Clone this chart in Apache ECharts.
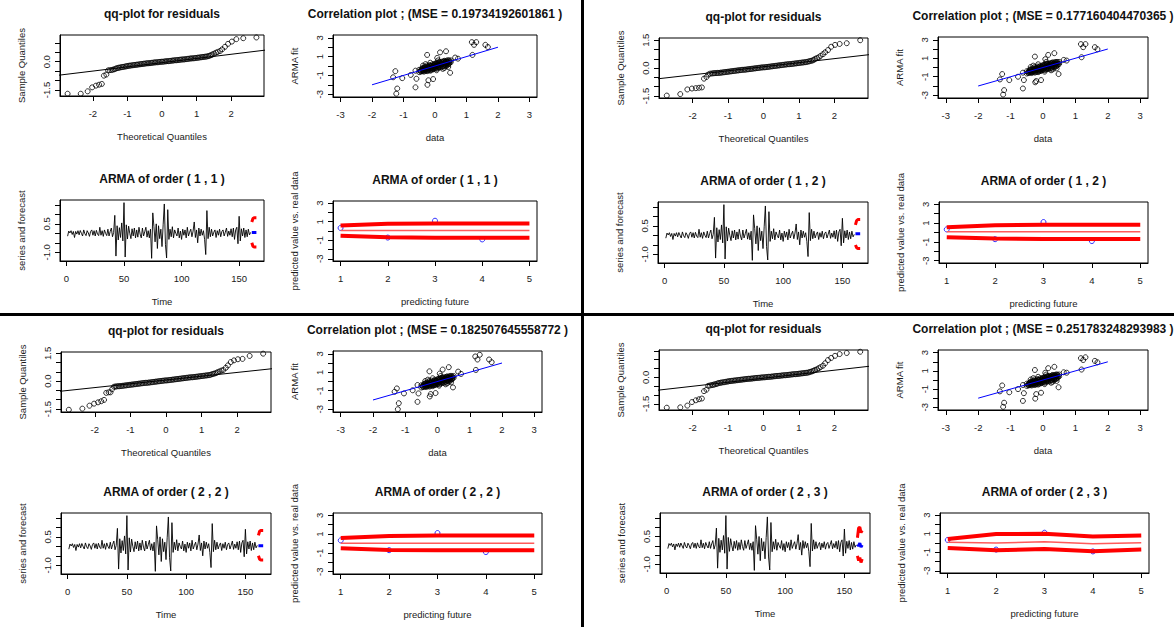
<!DOCTYPE html>
<html><head><meta charset="utf-8">
<script src="https://cdn.jsdelivr.net/npm/echarts/dist/echarts.min.js"></script>
<style>html,body{margin:0;padding:0;background:#fff}#c{width:1174px;height:627px}</style>
</head><body><div id="c"></div>
<script>
// ---------- DATA ----------
const mseValues = ['0.19734192601861','0.177160404470365','0.182507645558772','0.251783248293983'];
const armaOrders = [[1,1],[1,2],[2,2],[2,3]];

// qq-plot: theoretical quantiles (tails + dense middle) and sample quantiles
const qqTheoLeft = [-2.73,-2.35,-2.15,-2.02,-1.91,-1.82,-1.74,-1.68,-1.61,-1.56,-1.51,-1.46,-1.42,-1.38,-1.34,-1.30];
const qqTheoMid = [-1.26,-1.22,-1.18,-1.14,-1.10,-1.06,-1.02,-0.98,-0.94,-0.90,-0.86,-0.82,-0.78,-0.74,-0.70,-0.66,-0.62,-0.58,-0.54,-0.50,-0.46,-0.42,-0.38,-0.34,-0.30,-0.26,-0.22,-0.18,-0.14,-0.10,-0.06,-0.02,
 0.02,0.06,0.10,0.14,0.18,0.22,0.26,0.30,0.34,0.38,0.42,0.46,0.50,0.54,0.58,0.62,0.66,0.70,0.74,0.78,0.82,0.86,0.90,0.94,0.98,1.02,1.06,1.10,1.14,1.18,1.22,1.26];
const qqTheoRight = [1.30,1.34,1.38,1.42,1.46,1.51,1.56,1.61,1.68,1.74,1.82,1.91,2.02,2.15,2.35,2.73];

const qqMidA = [-0.32,-0.31,-0.29,-0.28,-0.27,-0.25,-0.24,-0.22,-0.21,-0.20,-0.19,-0.18,-0.17,-0.16,-0.15,-0.14,-0.13,-0.12,-0.11,-0.10,-0.09,-0.08,-0.08,-0.07,-0.06,-0.05,-0.04,-0.03,-0.03,-0.02,-0.01,0.00,
 0.00,0.01,0.02,0.03,0.03,0.04,0.05,0.06,0.07,0.08,0.08,0.09,0.10,0.11,0.12,0.12,0.13,0.14,0.15,0.16,0.17,0.18,0.18,0.19,0.20,0.21,0.22,0.23,0.24,0.25,0.26,0.27];
const qqMidB = [-0.26,-0.25,-0.24,-0.23,-0.22,-0.21,-0.20,-0.19,-0.18,-0.17,-0.16,-0.15,-0.14,-0.13,-0.12,-0.11,-0.10,-0.09,-0.09,-0.08,-0.07,-0.06,-0.05,-0.04,-0.03,-0.02,-0.01,0.00,0.01,0.02,0.03,0.04,
 0.04,0.05,0.06,0.07,0.08,0.09,0.10,0.11,0.12,0.13,0.14,0.15,0.16,0.17,0.18,0.19,0.20,0.21,0.21,0.22,0.23,0.24,0.25,0.26,0.27,0.28,0.29,0.30,0.31,0.32,0.33,0.35];
const qqLeft1 = [-1.70,-1.70,-1.57,-1.36,-1.27,-1.22,-1.18,-0.74,-0.68,-0.46,-0.45,-0.44,-0.42,-0.40,-0.37,-0.34];
const qqRight1 = [0.28,0.30,0.32,0.35,0.39,0.43,0.48,0.52,0.57,0.66,0.79,0.95,1.07,1.20,1.25,1.29];
const qqLeft2 = [-1.48,-1.40,-1.15,-1.10,-1.08,-1.06,-1.04,-0.57,-0.48,-0.35,-0.30,-0.29,-0.28,-0.27,-0.27,-0.26];
const qqRight2 = [0.37,0.39,0.41,0.44,0.50,0.54,0.58,0.66,0.75,0.85,0.97,1.15,1.25,1.30,1.34,1.50];
const qqLeft3 = [-1.54,-1.48,-1.32,-1.21,-1.14,-1.08,-1.01,-0.63,-0.60,-0.60,-0.42,-0.30,-0.29,-0.28,-0.27,-0.27];
const qqRight3 = [0.38,0.40,0.42,0.45,0.49,0.53,0.57,0.60,0.72,0.85,1.03,1.12,1.18,1.20,1.36,1.48];
const qqLeft4 = [-1.72,-1.70,-1.60,-1.40,-1.30,-1.24,-1.20,-0.78,-0.70,-0.48,-0.46,-0.44,-0.42,-0.40,-0.38,-0.35];
const qqRight4 = [0.30,0.32,0.35,0.38,0.42,0.46,0.52,0.58,0.66,0.80,0.98,1.10,1.22,1.32,1.38,1.45];
const qqLineX = [-3.3, 3.3];
const qqLineY = [[-0.786,0.686],[-0.646,0.792],[-0.611,0.735],[-0.80,0.70]];

// correlation plot: data (x) vs ARMA fit (y)
const corrCoreX = [-0.45,-0.42,-0.40,-0.38,-0.36,-0.34,-0.32,-0.30,-0.28,-0.26,-0.24,-0.22,-0.20,-0.18,-0.16,-0.14,-0.12,-0.10,-0.08,-0.06,-0.04,-0.02,0.00,0.02,0.04,0.06,0.08,0.10,0.12,0.14,0.16,0.18,0.20,0.22,0.24,0.26,0.28,0.30,0.32,0.34,0.36,0.38,0.40,0.42,0.44,0.46,-0.50,-0.30,0.10,0.25,-0.15,0.05,
 -0.45,-0.45,-0.40,-0.40,-0.35,-0.35,-0.35,-0.30,-0.30,-0.30,-0.25,-0.25,-0.25,-0.20,-0.20,-0.20,-0.15,-0.15,-0.15,-0.10,-0.10,-0.10,-0.05,-0.05,-0.05,0.00,0.00,0.00,0.05,0.05,0.05,0.10,0.10,0.10,0.15,0.15,0.15,0.20,0.20,0.20,0.25,0.25,0.25,0.30,0.30,0.30,0.35,0.35,0.35,0.40,0.40,0.40,0.45,0.45,0.50,0.50,-0.50,0.42,-0.38,0.30];
const corrCoreY = [-0.55,-0.30,-0.45,-0.20,-0.50,-0.35,-0.10,-0.40,-0.25,0.05,-0.45,-0.15,-0.30,0.10,-0.20,-0.40,0.00,-0.15,0.20,-0.30,0.05,-0.10,0.15,-0.20,0.30,0.00,0.25,-0.10,0.40,0.10,0.30,-0.05,0.45,0.20,0.35,0.00,0.50,0.25,0.40,0.10,0.55,0.30,0.45,0.20,0.60,0.35,-0.65,0.20,0.60,-0.30,0.35,-0.45,
 -0.45,-0.60,-0.30,-0.55,-0.25,-0.45,-0.60,-0.20,-0.50,-0.30,-0.10,-0.35,-0.55,-0.05,-0.20,-0.45,0.00,-0.30,-0.50,0.05,-0.25,-0.40,0.10,-0.15,-0.35,0.25,0.00,-0.25,0.20,-0.05,-0.30,0.30,0.05,-0.20,0.40,0.15,-0.15,0.30,0.10,-0.15,0.45,0.20,-0.05,0.55,0.35,0.10,0.45,0.20,0.00,0.60,0.35,0.10,0.50,0.25,0.40,0.60,-0.40,-0.10,0.05,-0.20];
const corrOutX = [1.17,1.31,1.24,1.60,1.68,1.19,0.64,0.73,0.35,0.16,0.07,-0.25,0.48,-0.06,-0.21,-0.24,-0.62,-0.59,-0.62,-0.77,-1.04,-1.26,-1.33,-1.20,-1.23];
const corrOutY1 = [2.54,2.54,2.25,2.25,2.02,1.18,0.90,0.78,1.57,1.45,0.86,1.18,-0.72,-1.39,-1.52,-2.00,-0.50,-1.36,-2.27,-0.95,-1.29,-0.55,-1.20,-2.40,-2.95];
const corrOutY2 = [2.53,2.53,2.20,2.20,1.98,1.11,0.82,0.75,1.55,1.36,0.90,1.18,-0.71,-1.36,-1.47,-1.60,-0.56,-1.36,-2.27,-1.00,-1.36,-0.71,-1.29,-2.45,-2.93];
const corrOutY3 = [2.71,2.89,2.38,2.38,2.09,1.25,1.07,0.82,1.55,1.29,0.86,1.10,-0.64,-1.25,-1.36,-1.62,-0.38,-1.29,-2.20,-0.95,-1.29,-0.75,-1.11,-2.35,-3.00];
const corrOutY4 = [2.40,2.50,2.20,2.10,1.95,1.15,0.85,0.80,1.45,1.30,0.80,1.10,-0.80,-1.40,-1.55,-2.05,-0.55,-1.45,-2.30,-1.00,-1.35,-0.60,-1.25,-2.50,-2.95];
const corrOutY = [corrOutY1, corrOutY2, corrOutY3, corrOutY4];
const fitLineX = [-2, 2];
const fitLineY = [-2, 2];

// observed series (t = 1..160)
const series = [
 -0.15,0.12,0.02,0.14,-0.06,0.10,-0.22,0.10,-0.04,0.14,
 -0.08,0.15,0.00,-0.14,0.18,-0.02,-0.12,0.14,0.02,-0.16,
 0.10,0.18,-0.10,0.14,-0.14,0.16,-0.04,-0.12,0.32,-0.10,
 0.14,-0.16,0.18,0.00,-0.12,0.22,-0.14,0.10,0.28,-0.18,
 0.05,0.95,-1.20,0.40,-0.35,0.30,-0.22,0.55,-0.40,1.62,
 -1.25,0.45,-0.30,0.38,0.00,-0.28,0.24,-0.14,0.28,-0.24,
 0.18,-0.20,0.32,-0.04,-0.24,0.28,-0.14,0.08,0.32,-0.20,
 0.14,-0.24,0.22,-1.32,1.08,0.35,-0.45,0.50,-0.80,0.40,
 -0.28,0.22,-0.70,0.45,1.55,-0.60,-1.30,1.25,-0.32,0.22,
 -0.18,0.35,-0.24,0.18,0.00,-0.14,0.28,-0.24,0.12,-0.32,
 0.22,-0.10,0.18,-0.24,0.32,-0.14,0.06,0.22,-0.18,0.12,
 0.60,-0.22,0.18,-0.50,0.28,-0.14,0.22,-0.10,0.14,-0.32,
 -1.12,1.20,-0.28,0.32,-0.18,0.22,-0.14,0.06,0.18,-0.22,
 0.14,-0.10,0.22,-0.18,0.10,0.18,-0.14,0.06,0.28,-0.16,
 0.12,-0.10,0.24,-0.18,0.28,-0.32,0.18,0.32,-0.55,0.90,
 -0.40,0.24,-0.14,0.28,-0.22,0.18,-0.18,0.22,-0.08,0.05];
const forecastT = [161,162,163,164,165];
const horizon = [1,2,3,4,5];
const fcMean = [[0.05,0.05,0.05,0.05,0.05],[0.09,0.09,0.09,0.09,0.09],[0.03,0.03,0.03,0.03,0.03],[0.07,0.00,0.14,-0.07,0.04]];
const fcUpper = [[0.60,0.78,0.82,0.82,0.82],[0.55,0.78,0.83,0.83,0.83],[0.58,0.80,0.84,0.84,0.84],[0.43,0.96,1.00,0.71,0.82]];
const fcLower = [[-0.50,-0.68,-0.72,-0.72,-0.72],[-0.51,-0.65,-0.69,-0.69,-0.69],[-0.50,-0.68,-0.72,-0.72,-0.72],[-0.54,-0.79,-0.64,-0.89,-0.71]];
const realT = [1,2,3,4];
const realNext = [0.33,-0.71,1.11,-0.91];

// axis ticks / labels
const qqXTicks = [-2,-1,0,1,2];
const qqYTicks = [-1.5,-1,-0.5,0,0.5,1,1.5];
const qqYLabels = [[-1.5,0],[-1.5,0,1.5],[-1.5,0,1.5],[-1.5,0]];
const qqYRange = [[-1.82,1.42],[-1.61,1.62],[-1.66,1.57],[-1.85,1.55]];
const corrTicks = [-3,-2,-1,0,1,2,3];
const corrXLabels = [-3,-2,-1,0,1,2,3];
const corrYLabels = [-3,-1,1,3];
const timeTicks = [0,50,100,150];
const armaYTicks = [-1,-0.5,0,0.5,1,1.5];
const armaYLabels = [-1,0.5];
const predXTicks = [1,2,3,4,5];

// built tables
const qqTheo = qqTheoLeft.concat(qqTheoMid, qqTheoRight);
const qqSamples = [
  qqLeft1.concat(qqMidA, qqRight1),
  qqLeft2.concat(qqMidB, qqRight2),
  qqLeft3.concat(qqMidB, qqRight3),
  qqLeft4.concat(qqMidA, qqRight4)];

// ---------- LAYOUT ----------
const boxes = [
 {qq:[60,35,264,96], corr:[333,35,537,97], arma:[60,200,264,261], pred:[333,201,537,261]},
 {qq:[659,38,868,98], corr:[938,37,1148,98], arma:[658,202,868,263], pred:[939,202,1148,263]},
 {qq:[61,352,271,412], corr:[333,351,542,412], arma:[61,513,271,574], pred:[333,513,542,574]},
 {qq:[659,350,868,410], corr:[938,350,1148,410], arma:[660,513,870,573], pred:[940,513,1149,573]}
];
const FF = "'Liberation Sans', Arial, sans-serif";
const TXT = '#1a1a1a';

const grids = [], xAxes = [], yAxes = [], seriesList = [], graphics = [];
const f1 = v => v.toFixed(1);
const f0 = v => String(Math.round(v));

function addGrid(b){
  grids.push({left:b[0], top:b[1], width:b[2]-b[0], height:b[3]-b[1], show:true, borderColor:'#000', borderWidth:1, backgroundColor:'transparent', containLabel:false});
  return grids.length-1;
}
function axis(gi, min, max, ticks, labels, fmt, name, isY){
  const inR = v => v >= min-1e-9 && v <= max+1e-9;
  return {
    type:'value', gridIndex:gi, min:min, max:max,
    splitLine:{show:false}, splitArea:{show:false},
    axisLine:{show:true, onZero:false, lineStyle:{color:'#000', width:1}},
    axisTick:{show:true, inside:false, length:5, customValues:ticks.filter(inR), lineStyle:{color:'#000', width:1}},
    axisLabel:{show:true, customValues:labels.filter(inR), formatter:fmt, fontSize:9.5, color:TXT, fontFamily:FF, margin:isY?9:12, rotate:isY?90:0, hideOverlap:false},
    name:name, nameLocation:'middle', nameGap:isY?34:35, nameRotate:isY?90:0,
    nameTextStyle:{fontSize:9.5, color:TXT, fontFamily:FF}
  };
}
function title(b, text){
  graphics.push({type:'text', x:(b[0]+b[2])/2, y:b[1]-21, silent:true,
    style:{text:text, fill:'#111', font:"bold 12px 'Liberation Sans', Arial, sans-serif", textAlign:'center', textVerticalAlign:'middle', align:'center', verticalAlign:'middle'}});
}
const pts = (xs, ys) => xs.map((x,i)=>[x, ys[i]]);
const circ = (color) => ({type:'scatter', symbol:'circle', symbolSize:5, silent:true,
  itemStyle:{color:'rgba(0,0,0,0)', borderColor:color, borderWidth:1}});

for (let q=0; q<4; q++){
  const B = boxes[q];
  const ord = '( ' + armaOrders[q][0] + ' , ' + armaOrders[q][1] + ' )';
  // qq
  let g = addGrid(B.qq);
  xAxes.push(axis(g, -2.95, 2.95, qqXTicks, qqXTicks, f0, 'Theoretical Quantiles', false));
  yAxes.push(axis(g, qqYRange[q][0], qqYRange[q][1], qqYTicks, qqYLabels[q], f1, 'Sample Quantiles', true));
  seriesList.push(Object.assign(circ('#000'), {xAxisIndex:g, yAxisIndex:g, data:pts(qqTheo, qqSamples[q])}));
  seriesList.push({type:'line', xAxisIndex:g, yAxisIndex:g, data:pts(qqLineX, qqLineY[q]), symbol:'none', clip:true, silent:true, lineStyle:{color:'#000', width:1}});
  title(B.qq, 'qq-plot for residuals');
  // corr
  g = addGrid(B.corr);
  xAxes.push(axis(g, -3.24, 3.24, corrTicks, corrXLabels, f0, 'data', false));
  yAxes.push(axis(g, -3.3, 3.3, corrTicks, corrYLabels, f0, 'ARMA fit', true));
  seriesList.push(Object.assign(circ('#000'), {xAxisIndex:g, yAxisIndex:g, data:pts(corrCoreX, corrCoreY).concat(pts(corrOutX, corrOutY[q]))}));
  seriesList.push({type:'line', xAxisIndex:g, yAxisIndex:g, data:pts(fitLineX, fitLineY), symbol:'none', silent:true, lineStyle:{color:'#0000ff', width:1}});
  title(B.corr, 'Correlation plot ; (MSE = ' + mseValues[q] + ' )');
  // arma series + forecast
  g = addGrid(B.arma);
  xAxes.push(axis(g, -5.6, 171.6, timeTicks, timeTicks, f0, 'Time', false));
  yAxes.push(axis(g, -1.46, 1.76, armaYTicks, armaYLabels, f1, 'series and forecast', true));
  seriesList.push({type:'line', xAxisIndex:g, yAxisIndex:g, data:series.map((v,i)=>[i+1,v]), symbol:'none', silent:true, lineStyle:{color:'#000', width:0.9}});
  seriesList.push({type:'line', xAxisIndex:g, yAxisIndex:g, data:pts(forecastT, fcUpper[q]), symbol:'none', silent:true, lineStyle:{color:'#ff0000', width:3}});
  seriesList.push({type:'line', xAxisIndex:g, yAxisIndex:g, data:pts(forecastT, fcLower[q]), symbol:'none', silent:true, lineStyle:{color:'#ff0000', width:3}});
  seriesList.push({type:'line', xAxisIndex:g, yAxisIndex:g, data:pts(forecastT, fcMean[q]), symbol:'none', silent:true, lineStyle:{color:'#0000ff', width:3}});
  title(B.arma, 'ARMA of order ' + ord);
  // predicted vs real
  g = addGrid(B.pred);
  xAxes.push(axis(g, 0.84, 5.16, predXTicks, predXTicks, f0, 'predicting future', false));
  yAxes.push(axis(g, -3.24, 3.24, corrTicks, corrYLabels, f0, 'predicted value vs. real data', true));
  seriesList.push({type:'line', xAxisIndex:g, yAxisIndex:g, data:pts(horizon, fcUpper[q]), symbol:'none', silent:true, lineStyle:{color:'#ff0000', width:4}});
  seriesList.push({type:'line', xAxisIndex:g, yAxisIndex:g, data:pts(horizon, fcLower[q]), symbol:'none', silent:true, lineStyle:{color:'#ff0000', width:4}});
  seriesList.push({type:'line', xAxisIndex:g, yAxisIndex:g, data:pts(horizon, fcMean[q]), symbol:'none', silent:true, lineStyle:{color:'#ff5a5a', width:1.5}});
  seriesList.push(Object.assign(circ('#0000ff'), {xAxisIndex:g, yAxisIndex:g, data:pts(realT, realNext)}));
  title(B.pred, 'ARMA of order ' + ord);
}
graphics.push({type:'rect', shape:{x:581, y:0, width:3, height:627}, style:{fill:'#000'}, silent:true});
graphics.push({type:'rect', shape:{x:0, y:313, width:1174, height:3}, style:{fill:'#000'}, silent:true});

const chart = echarts.init(document.getElementById('c'), null, {renderer:'svg', width:1174, height:627});
chart.setOption({
  animation:false, backgroundColor:'#fff',
  textStyle:{fontFamily:FF},
  grid:grids, xAxis:xAxes, yAxis:yAxes, series:seriesList, graphic:graphics
});
</script></body></html>
